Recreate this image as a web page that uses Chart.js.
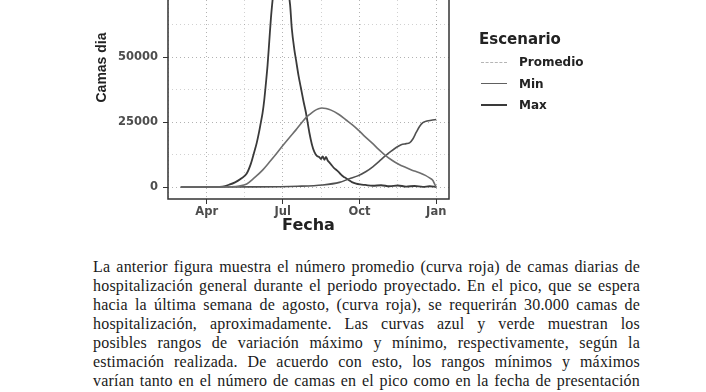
<!DOCTYPE html>
<html>
<head>
<meta charset="utf-8">
<script src="https://cdn.jsdelivr.net/npm/chart.js@4.4.1/dist/chart.umd.min.js"></script>
<style>
  html, body { margin: 0; padding: 0; background: #fff; width: 706px; height: 392px; overflow: hidden; }
  #chartBox { position: absolute; left: 0; top: -80px; width: 706px; height: 330px; }
  .leg { position: absolute; font-family: "DejaVu Sans", sans-serif; font-weight: bold; color: #222; white-space: nowrap; }
  .legTitle { left: 479px; top: 30px; font-size: 15px; line-height: 18px; }
  .legItem { left: 519px; font-size: 12px; line-height: 14px; }
  .key { position: absolute; left: 481px; width: 26px; height: 0; }
  #text { position: absolute; left: 93px; top: 257px; width: 547px; font-family: "Liberation Serif", serif; font-size: 16px; line-height: 19px; color: #1a1a1a; }
  #text div { text-align: justify; text-align-last: justify; letter-spacing: 0.2px; }
</style>
</head>
<body>
<div id="chartBox"><canvas id="bedsChart"></canvas></div>

<div class="leg legTitle">Escenario</div>
<div class="key" style="top:62px; border-top:1.5px dashed #b5b5b5;"></div>
<div class="leg legItem" style="top:55px;">Promedio</div>
<div class="key" style="top:83px; border-top:1.5px solid #606060;"></div>
<div class="leg legItem" style="top:77px;">Min</div>
<div class="key" style="top:104px; border-top:2px solid #3a3a3a;"></div>
<div class="leg legItem" style="top:98px;">Max</div>

<div id="text">
  <div>La anterior figura muestra el número promedio (curva roja) de camas diarias de</div>
  <div>hospitalización general durante el periodo proyectado. En el pico, que se espera</div>
  <div>hacia la última semana de agosto, (curva roja), se requerirán 30.000 camas de</div>
  <div>hospitalización, aproximadamente. Las curvas azul y verde muestran los</div>
  <div>posibles rangos de variación máximo y mínimo, respectivamente, según la</div>
  <div>estimación realizada. De acuerdo con esto, los rangos mínimos y máximos</div>
  <div>varían tanto en el número de camas en el pico como en la fecha de presentación</div>
</div>

<script>
// days counted from 1 Jan 2020 (day 0)
const promDays = [60, 100, 118, 130, 139, 148, 158, 166, 174, 182, 190, 198, 205, 210, 215, 220, 225, 229, 234, 240, 249, 258, 266, 273, 281, 289, 297, 305, 313, 321, 329, 337, 345, 353, 358, 362, 364, 366];
const promBeds = [0, 0, 100, 400, 1200, 3500, 6500, 9500, 12600, 15900, 19000, 22000, 24800, 26700, 28100, 29300, 30100, 30400, 30200, 29600, 28000, 25800, 23800, 21800, 19300, 17000, 14500, 12200, 10300, 8800, 7600, 6500, 5600, 4500, 3500, 2500, 1200, 0];

const minDays = [60, 150, 200, 230, 250, 262, 272, 282, 290, 297, 305, 312, 318, 324, 330, 334, 338, 342, 346, 350, 355, 360, 366];
const minBeds = [0, 50, 300, 800, 1800, 3200, 4300, 6000, 7800, 9700, 12000, 13800, 15200, 16300, 16700, 17000, 18500, 21000, 23300, 24800, 25400, 25700, 26000];

const maxDays = [60, 80, 100, 110, 118, 125, 132, 139, 144, 148, 151, 154, 156, 158, 160, 162, 164, 166, 168, 170, 172, 175, 178, 180, 182, 185, 188, 191, 193, 196, 198, 201, 204, 207, 210, 214, 217, 220, 223, 226, 228, 230, 232, 234, 236, 238, 241, 244, 247, 249, 252, 255, 258, 262, 265, 270, 275, 281, 290, 300, 310, 320, 330, 340, 350, 358, 366];
const maxBeds = [0, 0, 50, 200, 900, 1800, 3200, 5200, 9000, 13500, 17000, 21500, 25000, 28500, 33500, 40000, 47000, 56000, 65000, 72000, 78000, 86000, 91000, 92000, 90000, 84000, 77000, 70000, 61000, 53000, 49000, 43000, 38000, 33000, 28500, 21000, 16500, 13500, 12000, 11500, 10800, 11800, 10500, 11600, 10200, 9500, 8300, 7200, 6400, 5800, 4800, 4000, 3400, 2500, 1900, 1300, 1000, 800, 500, 700, 300, 600, 200, 400, 100, 300, 0];

const monthDays = [91, 182, 274, 366];
const monthLabels = ['Apr', 'Jul', 'Oct', 'Jan'];
const minorDays = [45.5, 136.5, 228, 320];
const yMajorTicks = [0, 25000, 50000, 75000];
const yMinorTicks = [12500, 37500, 62500, 87500];

const toPoints = (days, beds) => days.map((d, i) => ({ x: d, y: beds[i] }));

const panelBorder = {
  id: 'panelBorder',
  afterDatasetsDraw(chart) {
    const { ctx, chartArea: a } = chart;
    ctx.save();
    ctx.strokeStyle = '#333';
    ctx.lineWidth = 1.5;
    ctx.strokeRect(a.left, a.top, a.right - a.left, a.bottom - a.top);
    ctx.restore();
  }
};

const tickFont = { family: 'DejaVu Sans', size: 11.5, weight: 'bold' };

new Chart(document.getElementById('bedsChart'), {
  type: 'line',
  data: {
    datasets: [
      { label: 'Promedio', data: toPoints(promDays, promBeds), borderColor: '#6e6e6e', borderWidth: 1.6 },
      { label: 'Min', data: toPoints(minDays, minBeds), borderColor: '#505050', borderWidth: 1.6 },
      { label: 'Max', data: toPoints(maxDays, maxBeds), borderColor: '#3a3a3a', borderWidth: 1.8 }
    ]
  },
  options: {
    responsive: true,
    maintainAspectRatio: false,
    animation: false,
    parsing: false,
    layout: { padding: { top: 16, right: 257, left: 0, bottom: 0 } },
    elements: { point: { radius: 0 }, line: { cubicInterpolationMode: 'monotone', fill: false } },
    plugins: { legend: { display: false }, tooltip: { enabled: false } },
    scales: {
      x: {
        type: 'linear',
        min: 44.7,
        max: 381.3,
        afterFit: (scale) => { scale.height = 51; },
        afterBuildTicks: (scale) => {
          scale.ticks = monthDays.concat(minorDays).sort((a, b) => a - b).map(v => ({ value: v }));
        },
        ticks: {
          autoSkip: false,
          maxRotation: 0,
          padding: 1,
          color: '#4d4d4d',
          font: tickFont,
          callback: (v) => { const i = monthDays.indexOf(v); return i >= 0 ? monthLabels[i] : ''; }
        },
        grid: {
          color: (c) => monthDays.includes(c.tick && c.tick.value) ? 'rgba(0,0,0,0.3)' : 'rgba(0,0,0,0.18)',
          tickColor: (c) => monthDays.includes(c.tick && c.tick.value) ? '#333' : 'rgba(0,0,0,0)',
          tickLength: 5,
          tickBorderDash: [],
          lineWidth: 1
        },
        border: { display: false, dash: [1, 3] },
        title: { display: true, text: 'Fecha', color: '#222', font: { family: 'DejaVu Sans', size: 16, weight: 'bold' }, padding: { top: 0, bottom: 15 } }
      },
      y: {
        min: -4600,
        max: 96600,
        afterFit: (scale) => { scale.width = 168; },
        afterBuildTicks: (scale) => {
          scale.ticks = yMajorTicks.concat(yMinorTicks).sort((a, b) => a - b).map(v => ({ value: v }));
        },
        ticks: {
          padding: 5,
          color: '#4d4d4d',
          font: tickFont,
          callback: (v) => yMajorTicks.includes(v) ? String(v) : ''
        },
        grid: {
          color: (c) => yMajorTicks.includes(c.tick && c.tick.value) ? 'rgba(0,0,0,0.3)' : 'rgba(0,0,0,0.18)',
          tickColor: (c) => yMajorTicks.includes(c.tick && c.tick.value) ? '#333' : 'rgba(0,0,0,0)',
          tickLength: 5,
          tickBorderDash: [],
          lineWidth: 1
        },
        border: { display: false, dash: [1, 3] },
        title: { display: true, text: 'Camas dia', color: '#222', font: { family: 'Liberation Sans', size: 14, weight: 'bold' }, padding: { top: 94, bottom: 0 } }
      }
    }
  },
  plugins: [panelBorder]
});
</script>
</body>
</html>
